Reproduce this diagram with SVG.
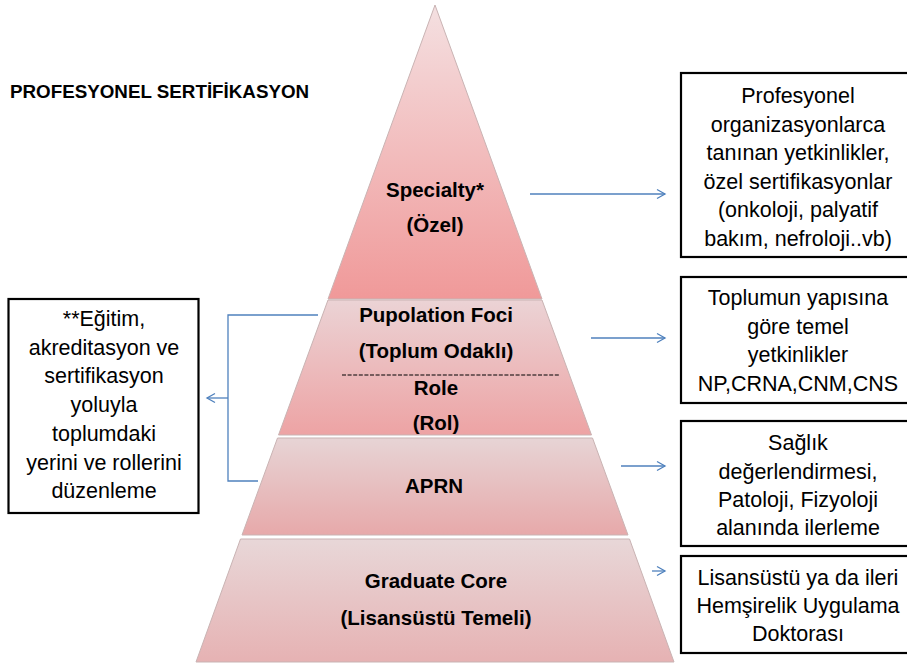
<svg xmlns="http://www.w3.org/2000/svg" width="907" height="666" viewBox="0 0 907 666">
<defs>
<linearGradient id="g1" x1="0" y1="0" x2="0" y2="1"><stop offset="0" stop-color="#f4e0e1"/><stop offset="1" stop-color="#f09999"/></linearGradient>
<linearGradient id="g2" x1="0" y1="0" x2="0" y2="1"><stop offset="0" stop-color="#ebd3d5"/><stop offset="1" stop-color="#eda3a4"/></linearGradient>
<linearGradient id="g3" x1="0" y1="0" x2="0" y2="1"><stop offset="0" stop-color="#e7d4d5"/><stop offset="1" stop-color="#e7a9aa"/></linearGradient>
<linearGradient id="g4" x1="0" y1="0" x2="0" y2="1"><stop offset="0" stop-color="#e8d7d8"/><stop offset="1" stop-color="#e6b2b3"/></linearGradient>
<marker id="ah" markerWidth="12" markerHeight="12" refX="9" refY="6" orient="auto" markerUnits="userSpaceOnUse">
<path d="M1,1.5 L9,6 L1,10.5" fill="none" stroke="#4f81bd" stroke-width="1.3"/>
</marker>
</defs>
<style>
.seg{stroke:#c9b3b3;stroke-width:1}
.pt{font-family:"Liberation Sans",Arial,sans-serif;font-weight:bold;font-size:20.5px;fill:#000;text-anchor:middle}
.bx{fill:#fff;stroke:#000;stroke-width:2.2}
.bt{font-family:"Liberation Sans",Arial,sans-serif;font-size:21.5px;fill:#000;text-anchor:middle}
.cn{fill:none;stroke:#4f81bd;stroke-width:1.3}
</style>
<text x="10" y="98" font-family="Liberation Sans, Arial, sans-serif" font-weight="bold" font-size="18.8" fill="#000">PROFESYONEL SERTİFİKASYON</text>

<g id="specialty">
<polygon class="seg" points="435,5 542,299 328,299" fill="url(#g1)"/>
<text class="pt" x="435" y="197">Specialty*</text>
<text class="pt" x="435" y="232">(Özel)</text>
</g>
<g id="population">
<polygon class="seg" points="328,300 542,300 591.5,435 278.5,435" fill="url(#g2)"/>
<text class="pt" x="436" y="322">Pupolation Foci</text>
<text class="pt" x="436" y="358">(Toplum Odaklı)</text>
<line x1="342" y1="375" x2="560" y2="375" stroke="#000" stroke-width="1.2" stroke-dasharray="4,1.6"/>
<text class="pt" x="436" y="395">Role</text>
<text class="pt" x="436" y="430">(Rol)</text>
</g>
<g id="aprn">
<polygon class="seg" points="277.5,438 592.5,438 628,535 242,535" fill="url(#g3)"/>
<text class="pt" x="434" y="493" font-size="22">APRN</text>
</g>
<g id="graduate">
<polygon class="seg" points="240.5,539 629.5,539 674,662 196,662" fill="url(#g4)"/>
<text class="pt" x="436" y="588">Graduate Core</text>
<text class="pt" x="436" y="625">(Lisansüstü Temeli)</text>
</g>

<g id="leftbox">
<rect class="bx" x="8.5" y="299" width="190" height="214"/>
<text class="bt" x="104" y="326">**Eğitim,</text>
<text class="bt" x="104" y="354.7">akreditasyon ve</text>
<text class="bt" x="104" y="383.4">sertifikasyon</text>
<text class="bt" x="104" y="412">yoluyla</text>
<text class="bt" x="104" y="440.8">toplumdaki</text>
<text class="bt" x="104" y="469.5">yerini ve rollerini</text>
<text class="bt" x="104" y="498">düzenleme</text>
</g>
<g id="box1">
<rect class="bx" x="681" y="73" width="236" height="184"/>
<text class="bt" x="798" y="103">Profesyonel</text>
<text class="bt" x="798" y="131.5">organizasyonlarca</text>
<text class="bt" x="798" y="160">tanınan yetkinlikler,</text>
<text class="bt" x="798" y="188.5">özel sertifikasyonlar</text>
<text class="bt" x="798" y="217">(onkoloji, palyatif</text>
<text class="bt" x="798" y="245.5">bakım, nefroloji..vb)</text>
</g>
<g id="box2">
<rect class="bx" x="681" y="277" width="236" height="126"/>
<text class="bt" x="798" y="305">Toplumun yapısına</text>
<text class="bt" x="798" y="333.5">göre temel</text>
<text class="bt" x="798" y="362">yetkinlikler</text>
<text class="bt" x="798" y="390.5">NP,CRNA,CNM,CNS</text>
</g>
<g id="box3">
<rect class="bx" x="681" y="421" width="236" height="125"/>
<text class="bt" x="798" y="450">Sağlık</text>
<text class="bt" x="798" y="478.5">değerlendirmesi,</text>
<text class="bt" x="798" y="507">Patoloji, Fizyoloji</text>
<text class="bt" x="798" y="535">alanında ilerleme</text>
</g>
<g id="box4">
<rect class="bx" x="681" y="556" width="236" height="97"/>
<text class="bt" x="798" y="585">Lisansüstü ya da ileri</text>
<text class="bt" x="798" y="613">Hemşirelik Uygulama</text>
<text class="bt" x="798" y="641">Doktorası</text>
</g>

<g id="connectors">
<line class="cn" x1="530" y1="194" x2="665" y2="194" marker-end="url(#ah)"/>
<line class="cn" x1="591" y1="338" x2="665" y2="338" marker-end="url(#ah)"/>
<line class="cn" x1="621" y1="466" x2="665" y2="466" marker-end="url(#ah)"/>
<line class="cn" x1="652" y1="571" x2="665" y2="571" marker-end="url(#ah)"/>
<polyline class="cn" points="318,315 228,315 228,481 258,481"/>
<line class="cn" x1="228" y1="398" x2="207" y2="398" marker-end="url(#ah)"/>
</g>
</svg>
